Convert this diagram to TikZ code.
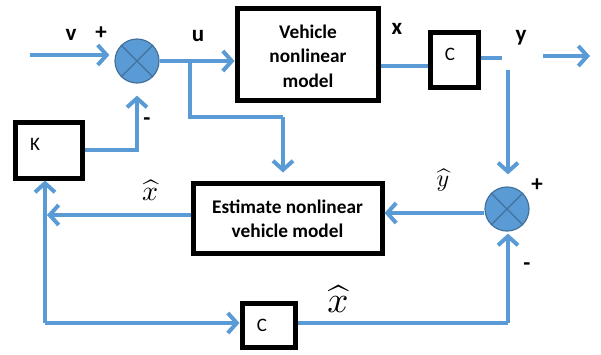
\documentclass[tikz,border=0pt]{standalone}
\usepackage{fontspec}
\setmainfont{Carlito}
\usetikzlibrary{arrows.meta,calc}
\definecolor{lblue}{HTML}{5B9BD5}
\definecolor{dblue}{HTML}{41719C}
\tikzset{
  wire/.style={draw=lblue,line width=4pt},
  arr/.style={wire,-{Straight Barb[length=9pt,width=20pt,line width=4pt]}},
  blk/.style={draw=black,line width=5pt,fill=white,inner sep=0pt},
  sumc/.style={circle,draw=dblue,line width=1.2pt,fill=lblue,minimum size=44pt,inner sep=0pt},
  xline/.style={draw=dblue,line width=1.2pt},
  lab/.style={font=\fontsize{23}{26}\selectfont\bfseries,inner sep=0pt},
  blab/.style={font=\fontsize{19}{22}\selectfont,inner sep=0pt},
  btext/.style={font=\fontsize{19.3}{24.5}\selectfont\bfseries,align=center,inner sep=0pt},
  hatlab/.style={inner sep=0pt},
}
\begin{document}
\begin{tikzpicture}[x=1pt,y=-1pt]
\useasboundingbox (0,0) rectangle (601,354);
% blocks
\node[blk,minimum width=141pt,minimum height=92pt] (veh) at (307.5,54) {};
\node[btext] (vehT) at (308,56) {Vehicle\\nonlinear\\model};
\node[blk,minimum width=48pt,minimum height=55pt] (c1) at (454,59.5) {};
\node[blab] (c1T) at (450,54) {C};
\node[blk,minimum width=67pt,minimum height=56pt] (K) at (48.5,150) {};
\node[blab] (KT) at (35,144) {K};
\node[blk,minimum width=189pt,minimum height=70pt] (est) at (287.5,218) {};
\node[btext] (estT) at (287.5,219) {Estimate nonlinear\\vehicle model};
\node[blk,minimum width=53pt,minimum height=44pt] (c2) at (268.5,325) {};
\node[blab] (c2T) at (262,325) {C};
% summing junctions
\node[sumc] (s1) at (137,61) {};
\draw[xline] (s1.north east) -- (s1.south west) (s1.north west) -- (s1.south east);
\node[sumc] (s2) at (507,209) {};
\draw[xline] (s2.north east) -- (s2.south west) (s2.north west) -- (s2.south east);
% coordinates
\coordinate (in1) at (30,55);
\coordinate (br) at (190,61);
\coordinate (bk) at (283,117);
\coordinate (yend) at (502,58);
\coordinate (ytop) at (508,70);
\coordinate (out1) at (543,56);
\coordinate (out2) at (590,56);
\coordinate (lv) at (47,215);
\coordinate (bl) at (45,323);
\coordinate (br2) at (508,323);
% connectors
\draw[arr] (in1) -- ($(in1 -| s1.west)+(-5,0)$);
\draw[arr] (s1.east) -- (s1.east -| veh.west);
\draw[wire] (br) |- (bk);
\draw[arr,shorten >=8pt] (bk) -- (bk |- est.north);
\draw[arr,shorten >=12pt] (K.east) -| (s1.south);
\draw[wire] (veh.east |- 0,66) -- (c1.west |- 0,66);
\draw[wire] (c1.east |- yend) -- (yend);
\draw[arr] (out1) -- (out2);
\draw[arr,shorten >=12pt] (ytop) -- (ytop |- s2.north);
\draw[arr] (s2.west |- 0,213) -- (est.east |- 0,213);
\draw[arr] (est.west |- lv) -- (lv);
\draw[arr] (bl) -- (bl |- K.south);
\draw[arr] (bl) -- (c2.west |- bl);
\draw[wire] (c2.east |- br2) -- (br2);
\draw[arr,shorten >=2pt] (br2) -- (br2 |- s2.south);
% labels
\node[lab] (lv1) at (71,35) {v};
\node[lab] (lp1) at (101,33) {+};
\node[lab] (lm1) at (147,122) {-};
\node[lab] (lu) at (198,36) {u};
\node[lab] (lx) at (397,29) {x};
\node[lab] (ly) at (521,38) {y};
\node[lab] (lp2) at (537,185) {+};
\node[lab] (lm2) at (527,267) {-};
\node[hatlab] (xh1) at (150,190) {\scalebox{2.8}{$\widehat{x}$}};
\node[hatlab] (yh) at (443,180) {\scalebox{2.4}{$\widehat{y}$}};
\node[hatlab] (xh2) at (338,299) {\scalebox{3.7}{$\widehat{x}$}};
\end{tikzpicture}
\end{document}
